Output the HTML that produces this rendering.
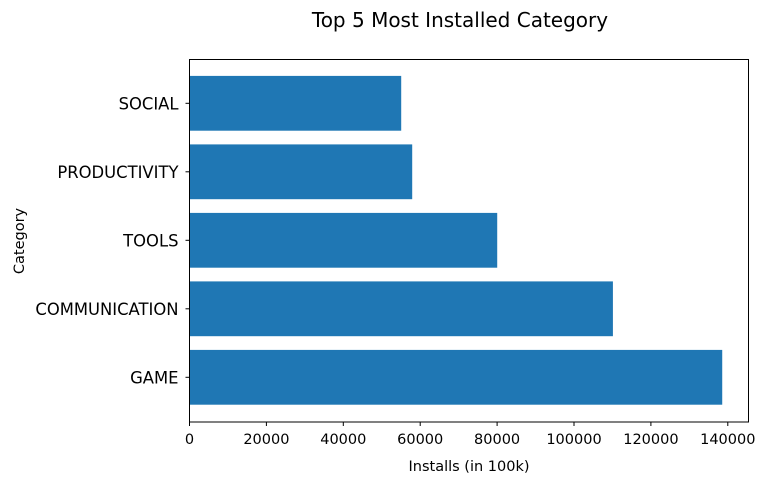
<!DOCTYPE html>
<html><head><meta charset="utf-8"><style>
body{margin:0;background:#fff;}
svg{display:block;font-family:"DejaVu Sans","Liberation Sans",sans-serif;}
</style></head><body>
<svg id="chart" width="770" height="485">
<text x="460" y="27" text-anchor="middle" font-size="20">Top 5 Most Installed Category</text>
<g id="bars"></g>
<g id="xticks"></g>
<g id="yticks"></g>
<rect x="189.5" y="59.5" width="559" height="362.5" fill="none" stroke="#000" stroke-width="1"/>
<text x="469" y="471" text-anchor="middle" font-size="14.5">Installs (in 100k)</text>
<text transform="translate(24,241) rotate(-90)" text-anchor="middle" font-size="14.5">Category</text>
</svg>
<script>
const categories = ["GAME","COMMUNICATION","TOOLS","PRODUCTIVITY","SOCIAL"];
const installs = [138550,110120,80030,57920,55060];
const xTickValues = [0,20000,40000,60000,80000,100000,120000,140000];
const xTickLabels = ["0","20000","40000","60000","80000","100000","120000","140000"];
const NS="http://www.w3.org/2000/svg";
const x0=189.5, pxPer=76.9/20000;
function xs(v){return x0+v*pxPer;}
function yc(i){return 377.3-68.5*i;}
const bh=54.8;
const bars=document.getElementById('bars'), xt=document.getElementById('xticks'), yt=document.getElementById('yticks');
categories.forEach((c,i)=>{
  const r=document.createElementNS(NS,'rect');
  r.setAttribute('x',xs(0));r.setAttribute('y',yc(i)-bh/2);
  r.setAttribute('width',xs(installs[i])-xs(0));r.setAttribute('height',bh);
  r.setAttribute('fill','#1f77b4');
  
  
  bars.appendChild(r);
  const l=document.createElementNS(NS,'line');
  l.setAttribute('x1',x0-4);l.setAttribute('x2',x0);l.setAttribute('y1',yc(i));l.setAttribute('y2',yc(i));
  l.setAttribute('stroke','#000');
  yt.appendChild(l);
  const t=document.createElementNS(NS,'text');
  t.setAttribute('x',x0-11);t.setAttribute('y',yc(i)+6);t.setAttribute('text-anchor','end');t.setAttribute('font-size','16.4');
  t.textContent=c;
  
  
  yt.appendChild(t);
});
xTickValues.forEach((v,i)=>{
  const l=document.createElementNS(NS,'line');
  l.setAttribute('x1',xs(v));l.setAttribute('x2',xs(v));l.setAttribute('y1',422);l.setAttribute('y2',426);
  l.setAttribute('stroke','#000');
  xt.appendChild(l);
  const t=document.createElementNS(NS,'text');
  t.setAttribute('x',xs(v));t.setAttribute('y',444);t.setAttribute('text-anchor','middle');t.setAttribute('font-size','14.5');
  t.textContent=xTickLabels[i];
  
  
  xt.appendChild(t);
});
</script>
</body></html>
